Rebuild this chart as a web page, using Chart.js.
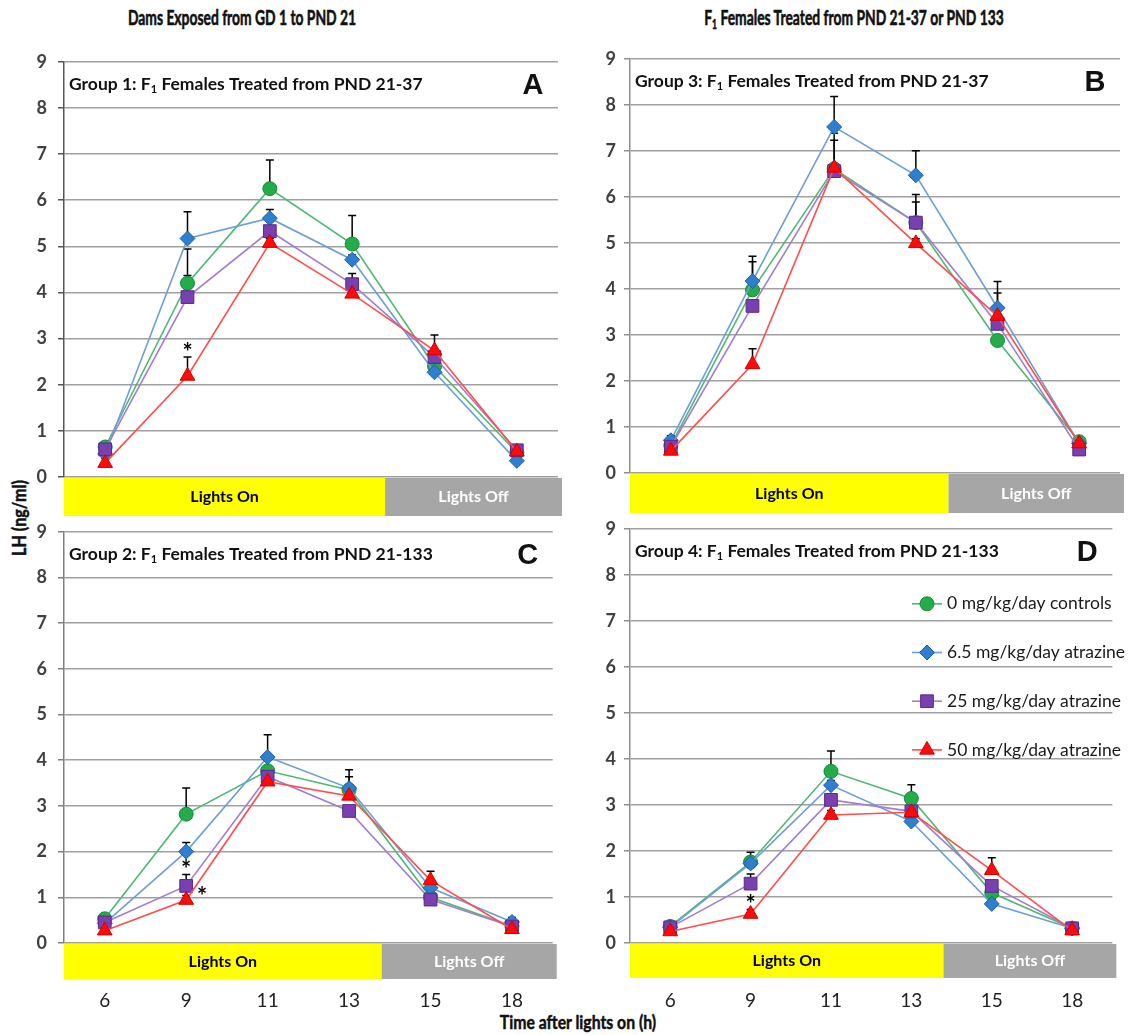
<!DOCTYPE html>
<html><head><meta charset="utf-8">
<script src="https://cdn.jsdelivr.net/npm/chart.js@4.4.1/dist/chart.umd.min.js"></script>
<style>
body{margin:0;background:#fff;width:1130px;height:1035px;position:relative;overflow:hidden;font-family:Lato,'Open Sans',sans-serif;}
canvas{position:absolute;}
.hdr{position:absolute;font-weight:bold;font-size:21px;color:#111;white-space:nowrap;transform:translateX(-50%) scaleX(0.66);line-height:24px;-webkit-text-stroke:0.6px #111;}
.hdr sub{font-size:13px;vertical-align:-4px;line-height:0;}
#ytitle{position:absolute;left:18px;top:518px;font-weight:bold;font-size:19px;color:#111;white-space:nowrap;transform:translate(-50%,-50%) rotate(-90deg) scaleX(0.85);-webkit-text-stroke:0.5px #111;}
</style></head>
<body>
<div class="hdr" style="left:242px;top:5px">Dams Exposed from GD 1 to PND 21</div>
<div class="hdr" style="left:854px;top:5px">F<sub>1</sub> Females Treated from PND 21-37 or PND 133</div>
<div id="ytitle">LH (ng/ml)</div>
<div class="hdr" style="left:578px;top:1010px;font-size:19px;transform:translateX(-50%) scaleX(0.83);-webkit-text-stroke:0.5px #111">Time after lights on (h)</div>
<canvas id="cA" width="570" height="480" style="left:0;top:40px"></canvas>
<canvas id="cB" width="560" height="480" style="left:570px;top:40px"></canvas>
<canvas id="cC" width="570" height="525" style="left:0;top:510px"></canvas>
<canvas id="cD" width="560" height="525" style="left:570px;top:510px"></canvas>
<script>
// ---- categories & labels ----
const timeLabels = ['6','9','11','13','15','18'];
const seriesNames = ['0 mg/kg/day controls','6.5 mg/kg/day atrazine','25 mg/kg/day atrazine','50 mg/kg/day atrazine'];
const lightsBoundary = 3.4; // category index where lights go off

// ---- Panel A (Group 1) ----
const a_ctrl   = [0.65, 4.20, 6.25, 5.05, 2.40, 0.53];
const a_atz6   = [0.50, 5.17, 5.61, 4.71, 2.27, 0.35];
const a_atz25  = [0.60, 3.90, 5.33, 4.18, 2.60, 0.58];
const a_atz50  = [0.30, 2.19, 5.07, 3.97, 2.74, 0.55];
const a_ctrl_se  = [0.10, 0.74, 0.62, 0.62, 0.10, 0.10];
const a_atz6_se  = [0.10, 0.58, 0.19, 0.10, 0.10, 0.10];
const a_atz25_se = [0.10, 0.47, 0.10, 0.23, 0.10, 0.10];
const a_atz50_se = [0.10, 0.41, 0.10, 0.10, 0.34, 0.10];

// ---- Panel B (Group 3) ----
const b_ctrl   = [0.60, 3.98, 6.61, 5.44, 2.88, 0.68];
const b_atz6   = [0.71, 4.17, 7.52, 6.47, 3.59, 0.64];
const b_atz25  = [0.57, 3.63, 6.56, 5.44, 3.24, 0.51];
const b_atz50  = [0.48, 2.36, 6.63, 4.99, 3.41, 0.64];
const b_ctrl_se  = [0.10, 0.61, 0.77, 0.61, 0.10, 0.10];
const b_atz6_se  = [0.10, 0.54, 0.66, 0.53, 0.57, 0.10];
const b_atz25_se = [0.10, 0.10, 0.10, 0.45, 0.10, 0.10];
const b_atz50_se = [0.10, 0.34, 0.60, 0.10, 0.50, 0.10];

// ---- Panel C (Group 2) ----
const c_ctrl   = [0.53, 2.82, 3.77, 3.35, 1.00, 0.37];
const c_atz6   = [0.43, 2.00, 4.07, 3.39, 1.21, 0.46];
const c_atz25  = [0.45, 1.25, 3.64, 2.89, 0.95, 0.36];
const c_atz50  = [0.27, 0.94, 3.53, 3.22, 1.37, 0.30];
const c_ctrl_se  = [0.10, 0.57, 0.10, 0.29, 0.10, 0.10];
const c_atz6_se  = [0.10, 0.20, 0.49, 0.40, 0.10, 0.10];
const c_atz25_se = [0.10, 0.25, 0.10, 0.10, 0.10, 0.10];
const c_atz50_se = [0.10, 0.10, 0.10, 0.10, 0.20, 0.10];

// ---- Panel D (Group 4) ----
const d_ctrl   = [0.36, 1.76, 3.73, 3.14, 1.09, 0.32];
const d_atz6   = [0.34, 1.73, 3.43, 2.64, 0.85, 0.32];
const d_atz25  = [0.34, 1.29, 3.11, 2.86, 1.24, 0.32];
const d_atz50  = [0.25, 0.63, 2.78, 2.84, 1.58, 0.27];
const d_ctrl_se  = [0.10, 0.21, 0.44, 0.30, 0.10, 0.10];
const d_atz6_se  = [0.10, 0.10, 0.10, 0.10, 0.10, 0.10];
const d_atz25_se = [0.10, 0.21, 0.10, 0.10, 0.10, 0.10];
const d_atz50_se = [0.10, 0.10, 0.10, 0.10, 0.27, 0.10];

// significance markers: series index, category index, placement
const a_sig = [{s:3, i:1, pos:'top'}];
const b_sig = [];
const c_sig = [{s:2, i:1, pos:'top'}, {s:3, i:1, pos:'right'}];
const d_sig = [{s:3, i:1, pos:'top'}];

// ---- styles ----
const FONT = "Lato, 'Open Sans', sans-serif";
const lineColors  = ['#4fb872', '#6c9fd8', '#a27dd0', '#ff4d4d'];
const fillColors  = ['#22ad48', '#2f7fd0', '#7a3fb0', '#ff0a0a'];
const edgeColors  = ['#17893a', '#1f5fa8', '#5a2a8a', '#d00000'];
const pointStyles = ['circle', 'rectRot', 'rect', 'triangle'];
const pointRadii  = [7, 7.5, 9, 8.5];
const drawOrder   = [3, 2, 1, 0];

function drawMarker(ctx, style, r, cx, cy) {
  ctx.beginPath();
  if (style === 'circle') ctx.arc(cx, cy, r, 0, Math.PI * 2);
  else if (style === 'rectRot') { ctx.moveTo(cx, cy - r); ctx.lineTo(cx + r, cy); ctx.lineTo(cx, cy + r); ctx.lineTo(cx - r, cy); ctx.closePath(); }
  else if (style === 'rect') { const h = r * Math.SQRT1_2; ctx.rect(cx - h, cy - h, 2 * h, 2 * h); }
  else { ctx.moveTo(cx, cy - r); ctx.lineTo(cx + r * 0.866, cy + r / 2); ctx.lineTo(cx - r * 0.866, cy + r / 2); ctx.closePath(); }
  ctx.fill(); ctx.stroke();
}

const errorBars = {
  id: 'errorBars',
  beforeDatasetsDraw(chart) {
    const {ctx, scales: {x, y}} = chart;
    ctx.save();
    ctx.strokeStyle = '#000'; ctx.lineWidth = 1.5;
    chart.data.datasets.forEach(ds => {
      ds.data.forEach((v, i) => {
        const px = x.getPixelForValue(i);
        const y0 = y.getPixelForValue(v), y1 = y.getPixelForValue(v + ds.errors[i]);
        ctx.beginPath();
        ctx.moveTo(px, y0); ctx.lineTo(px, y1);
        ctx.moveTo(px - 4, y1); ctx.lineTo(px + 4, y1);
        ctx.stroke();
      });
    });
    ctx.restore();
  }
};

const decor = {
  id: 'decor',
  afterDraw(chart, args, o) {
    const {ctx, chartArea: {left, right, top, bottom}, scales: {x, y}} = chart;
    ctx.save();
    // lights on / off bar
    const xb = x.getPixelForValue(lightsBoundary);
    const by = bottom + 1, bh = o.barH, br = right + 4;
    ctx.fillStyle = '#ffff00'; ctx.fillRect(left, by, xb - left, bh);
    ctx.fillStyle = '#a6a6a6'; ctx.fillRect(xb, by, br - xb, bh);
    ctx.font = 'bold 16px ' + FONT; ctx.textAlign = 'center'; ctx.textBaseline = 'middle';
    ctx.fillStyle = '#000'; ctx.fillText('Lights On', (left + xb) / 2, by + bh / 2);
    ctx.fillStyle = '#fff'; ctx.fillText('Lights Off', (xb + br) / 2, by + bh / 2);
    // panel title with subscript
    ctx.textAlign = 'left'; ctx.textBaseline = 'alphabetic'; ctx.fillStyle = '#111';
    let tx = left + 5; const ty = top + 28;
    ctx.font = 'bold 17.5px ' + FONT;
    ctx.fillText(o.titlePre, tx, ty); tx += ctx.measureText(o.titlePre).width;
    ctx.font = 'bold 11px ' + FONT;
    ctx.fillText('1', tx, ty + 3); tx += ctx.measureText('1').width;
    ctx.font = 'bold 17.5px ' + FONT;
    ctx.fillText(o.titlePost, tx, ty);
    // panel letter
    ctx.font = 'bold 29px "Liberation Sans", Arial, sans-serif';
    ctx.textAlign = 'center';
    ctx.fillText(o.letter, right - 25, top + 32);
    // significance asterisks
    ctx.font = 'bold 24px ' + FONT; ctx.fillStyle = '#000';
    (o.sig || []).forEach(m => {
      const ds = chart.data.datasets[m.s];
      const px = x.getPixelForValue(m.i);
      let cx, cy;
      if (m.pos === 'top') { cx = px; cy = y.getPixelForValue(ds.data[m.i] + ds.errors[m.i]) - 9; }
      else { cx = px + 16; cy = y.getPixelForValue(ds.data[m.i]) - 8; }
      ctx.fillText('*', cx, cy + 13);
    });
    // legend
    if (o.legend) {
      ctx.textAlign = 'left'; ctx.textBaseline = 'middle';
      chart.data.datasets.forEach((ds, k) => {
        const ly = top + 75 + k * 48.7;
        const lx = left + 282;
        ctx.strokeStyle = lineColors[k]; ctx.lineWidth = 1.6;
        ctx.beginPath(); ctx.moveTo(lx, ly); ctx.lineTo(lx + 30, ly); ctx.stroke();
        ctx.fillStyle = fillColors[k]; ctx.strokeStyle = edgeColors[k]; ctx.lineWidth = 1;
        drawMarker(ctx, pointStyles[k], pointRadii[k], lx + 15, ly);
        ctx.fillStyle = '#1a1a1a'; ctx.font = '17.5px ' + FONT;
        ctx.fillText(ds.label, lx + 35, ly);
      });
    }
    ctx.restore();
  }
};

function makePanel(id, values, errors, cfg) {
  return new Chart(document.getElementById(id), {
    type: 'line',
    data: {
      labels: timeLabels,
      datasets: values.map((vals, k) => ({
        label: seriesNames[k],
        data: vals,
        errors: errors[k],
        borderColor: lineColors[k],
        backgroundColor: fillColors[k],
        pointBackgroundColor: fillColors[k],
        pointBorderColor: edgeColors[k],
        pointStyle: pointStyles[k],
        pointRadius: pointRadii[k],
        pointHoverRadius: pointRadii[k],
        pointBorderWidth: 1,
        borderWidth: 1.6,
        tension: 0,
        fill: false,
        order: drawOrder[k]
      }))
    },
    options: {
      responsive: false, animation: false, events: [],
      layout: {padding: {top: cfg.padTop, right: cfg.padRight, left: 0, bottom: 0}},
      plugins: {
        legend: {display: false}, tooltip: {enabled: false},
        decor: {barH: cfg.barH, titlePre: cfg.titlePre, titlePost: cfg.titlePost, letter: cfg.letter, sig: cfg.sig, legend: cfg.legend}
      },
      scales: {
        x: {
          type: 'category', offset: true,
          grid: {display: false, drawTicks: false}, border: {display: false},
          ticks: {display: cfg.showX, padding: 46, color: '#222', font: {family: FONT, size: 19}},
          afterFit: s => { s.height = cfg.xHeight; }
        },
        y: {
          min: 0, max: 9,
          ticks: {stepSize: 1, padding: cfg.yPad, color: '#404040', font: {family: FONT, size: 18, weight: 'bold'}},
          grid: {color: '#a0a0a0', lineWidth: 1.5, tickLength: 6, tickColor: cfg.axisColor},
          border: {color: cfg.axisColor, width: 1.5},
          afterFit: s => { s.width = cfg.yWidth; }
        }
      }
    },
    plugins: [errorBars, decor]
  });
}

makePanel('cA', [a_ctrl, a_atz6, a_atz25, a_atz50], [a_ctrl_se, a_atz6_se, a_atz25_se, a_atz50_se],
  {padTop: 11, padRight: 12, yWidth: 64, yPad: 11, xHeight: 43, barH: 38, showX: false, axisColor: '#555',
   titlePre: 'Group 1: F', titlePost: ' Females Treated from PND 21-37', letter: 'A', sig: a_sig, legend: false});
makePanel('cB', [b_ctrl, b_atz6, b_atz25, b_atz50], [b_ctrl_se, b_atz6_se, b_atz25_se, b_atz50_se],
  {padTop: 12, padRight: 8, yWidth: 60, yPad: 8, xHeight: 47, barH: 39, showX: false, axisColor: '#909090',
   titlePre: 'Group 3: F', titlePost: ' Females Treated from PND 21-37', letter: 'B', sig: b_sig, legend: false});
makePanel('cC', [c_ctrl, c_atz6, c_atz25, c_atz50], [c_ctrl_se, c_atz6_se, c_atz25_se, c_atz50_se],
  {padTop: 11, padRight: 12, yWidth: 64, yPad: 11, xHeight: 92, barH: 35, showX: true, axisColor: '#808080',
   titlePre: 'Group 2: F', titlePost: ' Females Treated from PND 21-133', letter: 'C', sig: c_sig, legend: false});
makePanel('cD', [d_ctrl, d_atz6, d_atz25, d_atz50], [d_ctrl_se, d_atz6_se, d_atz25_se, d_atz50_se],
  {padTop: 11, padRight: 8, yWidth: 60, yPad: 8, xHeight: 92, barH: 34, showX: true, axisColor: '#909090',
   titlePre: 'Group 4: F', titlePost: ' Females Treated from PND 21-133', letter: 'D', sig: d_sig, legend: true});
</script>
</body></html>
